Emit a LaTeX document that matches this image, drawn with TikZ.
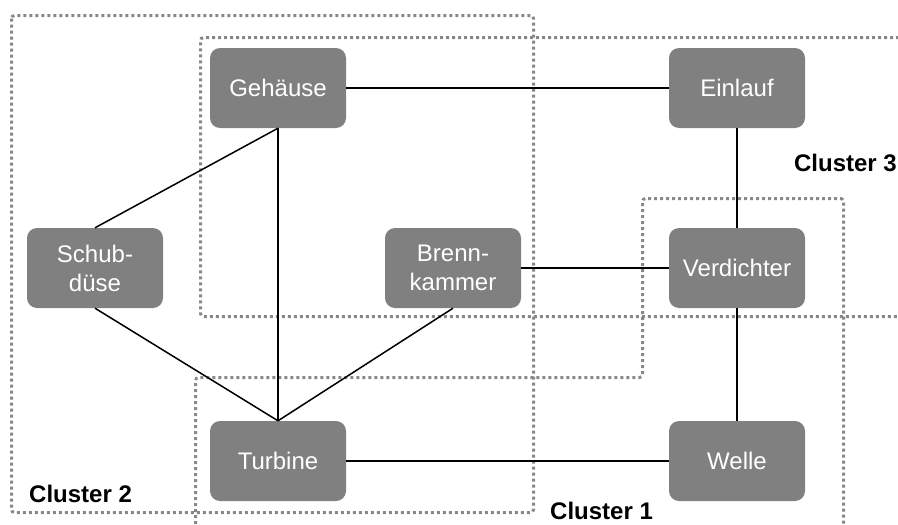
\documentclass[tikz,border=0pt]{standalone}
\usepackage{fontspec}
\setmainfont{Liberation Sans}
\begin{document}
\begin{tikzpicture}[x=1pt,y=-1pt,
  comp/.style={fill=nodegray, text=white, rounded corners=10pt, minimum width=136pt, minimum height=80pt, inner sep=0pt, align=center, font=\fontsize{24}{29}\selectfont},
  cluster/.style={draw=clustergray, line width=3pt, dash pattern=on 3pt off 3pt, rounded corners=3pt},
  clabel/.style={font=\fontsize{24}{29}\selectfont\bfseries, inner sep=0pt},
  edge/.style={draw=black, line width=1.5pt}]
\definecolor{nodegray}{HTML}{808080}
\definecolor{clustergray}{HTML}{888888}
\useasboundingbox (0,0) rectangle (898,525);
% clusters
\draw[cluster] (11.5,15.5) rectangle (533.5,512.5);
\draw[cluster] (905,37.5) -- (200.5,37.5) -- (200.5,316.5) -- (905,316.5);
\draw[cluster] (195.5,530) -- (195.5,377.5) -- (642.5,377.5) -- (642.5,198.5) -- (843.5,198.5) -- (843.5,530);
% nodes
\node[comp] (geh) at (278,88) {Gehäuse};
\node[comp] (ein) at (737,88) {Einlauf};
\node[comp] (schub) at (95,268) {Schub-\\düse};
\node[comp] (brenn) at (453,268) {Brenn-\\kammer};
\node[comp] (verd) at (737,268) {Verdichter};
\node[comp] (turb) at (278,461) {Turbine};
\node[comp] (welle) at (737,461) {Welle};
% edges
\draw[edge] (geh) -- (ein);
\draw[edge] (ein) -- (verd);
\draw[edge] (verd) -- (welle);
\draw[edge] (turb) -- (welle);
\draw[edge] (brenn) -- (verd);
\draw[edge] (geh.south) -- (schub.north);
\draw[edge] (geh.south) -- (turb.north);
\draw[edge] (schub.south) -- (turb.north);
\draw[edge] (brenn.south) -- (turb.north);
% labels
\node[clabel, anchor=base west] (c2) at (29,502) {Cluster 2};
\node[clabel, anchor=base west] (c1) at (550,519) {Cluster 1};
\node[clabel, anchor=base east] (c3) at (897,171) {Cluster 3};
\end{tikzpicture}
\end{document}
